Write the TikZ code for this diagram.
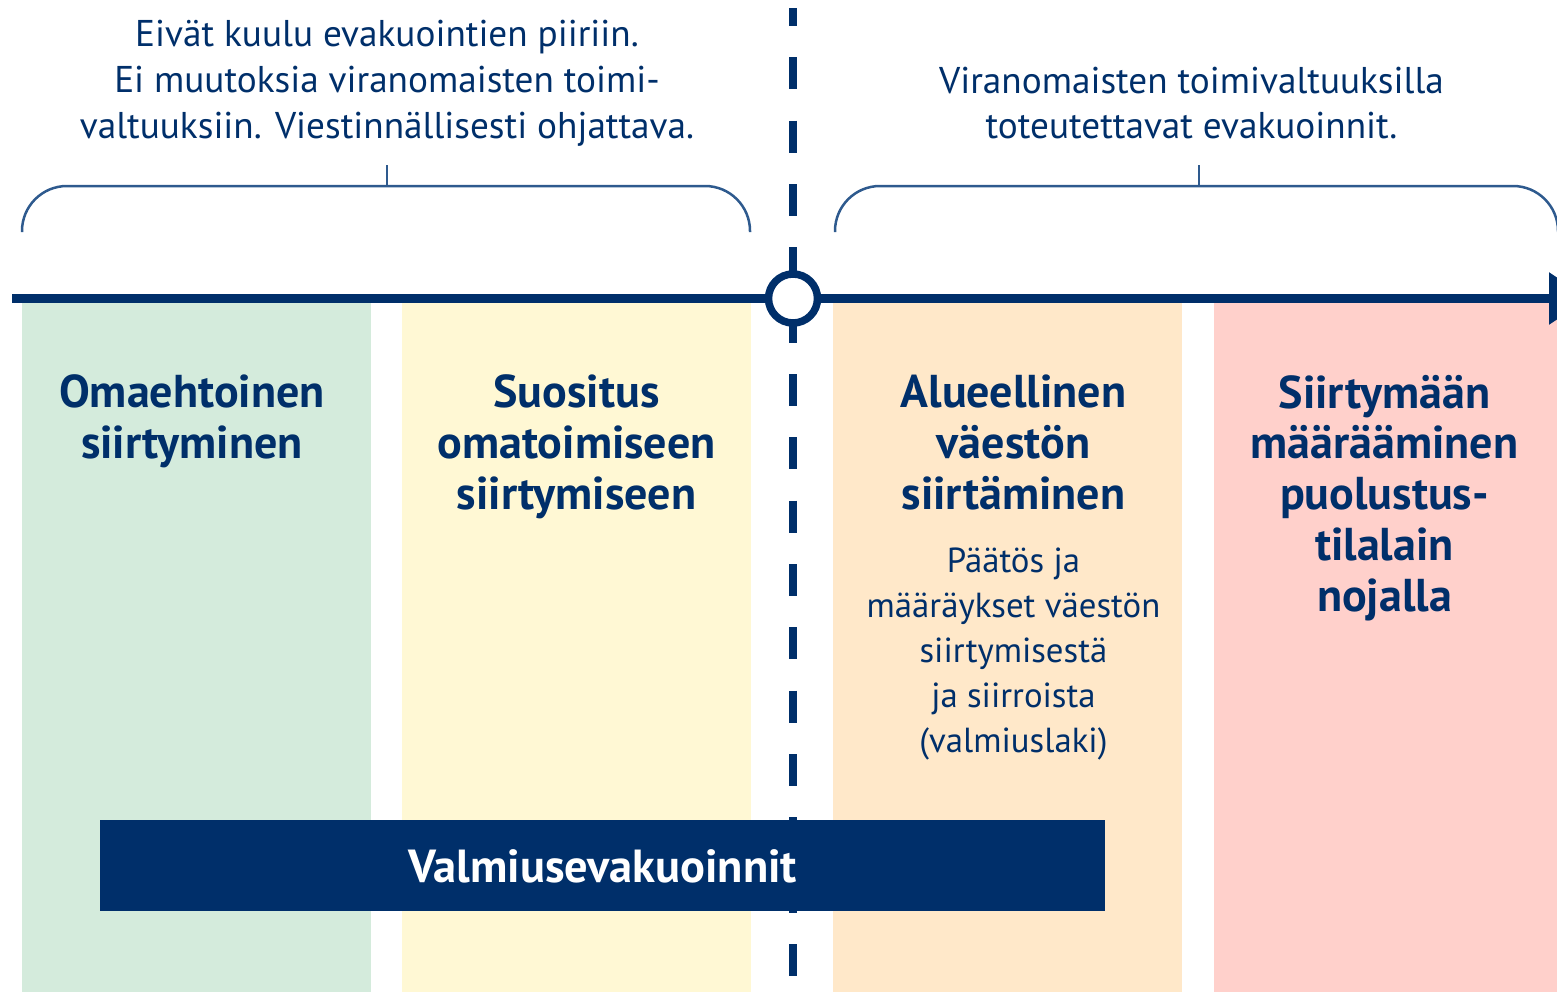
\documentclass[tikz,border=0pt]{standalone}
\usepackage{xcolor}
\usepackage{fontspec}
\setmainfont{PT Sans}
\usepackage{tikz}
\usetikzlibrary{arrows.meta,positioning}
\definecolor{navy}{HTML}{002F6A}
\definecolor{bracecol}{HTML}{2E5A8E}
\definecolor{greencol}{HTML}{D4EBDC}
\definecolor{yellowcol}{HTML}{FFF8D4}
\definecolor{orangecol}{HTML}{FFE8C9}
\definecolor{redcol}{HTML}{FFD0CB}
\tikzstyle{column} = [rectangle, anchor=north west, minimum width=6.98cm, minimum height=14.2cm, inner sep=0pt, outer sep=0pt, draw=none]
\tikzstyle{title} = [text=navy, align=center, inner sep=0pt, font=\fontsize{26.2}{29}\selectfont\bfseries]
\tikzstyle{infotext} = [text=navy, align=center, inner sep=0pt, font=\fontsize{19.8}{25.6}\selectfont]
\tikzstyle{toptext} = [text=navy, align=center, inner sep=0pt, font=\fontsize{21.2}{26}\selectfont]
\tikzstyle{brace} = [draw=bracecol, line width=0.05cm, rounded corners=0.9cm]
\tikzstyle{axis} = [draw=navy, line width=0.18cm, -{Triangle[length=0.8cm, width=1cm]}]
\tikzstyle{divider} = [draw=navy, line width=0.16cm, dash pattern=on 0.64cm off 0.627cm, dash phase=0.28cm]
\tikzstyle{bar} = [rectangle, fill=navy, text=white, minimum width=20.1cm, minimum height=1.82cm, inner sep=0pt, font=\fontsize{26.4}{29}\selectfont\bfseries]

\begin{document}
\begin{tikzpicture}[x=0.02cm, y=-0.02cm, node distance=0.5cm]
\clip (0,0) rectangle (1557,991);

% columns
\node (col1) [column, fill=greencol] at (22,298) {};
\node (col2) [column, fill=yellowcol] at (402,298) {};
\node (col3) [column, fill=orangecol] at (833,298) {};
\node (col4) [column, fill=redcol] at (1214,298) {};

% time axis and divider
\coordinate (axisstart) at (12,298.5);
\coordinate (axisend) at (1589,298.5);
\coordinate (divtop) at (793,8);
\coordinate (divbottom) at (793,1000);
\draw [axis] (axisstart) -- (axisend);
\draw [divider] (divtop) -- (divbottom);
\node (origin) [circle, draw=navy, line width=0.15cm, fill=white, minimum size=0.98cm, inner sep=0pt] at (793,298.5) {};

% braces
\draw [brace] (22,232) -- (22,186) -- (750,186) -- (750,232);
\draw [brace] (835,232) -- (835,186) -- (1558,186) -- (1558,232);
\coordinate (braceL) at (387,186);
\coordinate (tickL) at (387,165);
\coordinate (braceR) at (1199,186);
\coordinate (tickR) at (1199,165);
\draw [brace] (braceL) -- (tickL);
\draw [brace] (braceR) -- (tickR);

\node (topL) [toptext, above=0.37cm of tickL] {Eivät kuulu evakuointien piiriin.\\Ei muutoksia viranomaisten toimi-\\valtuuksiin. Viestinnällisesti ohjattava.};
\node (topR) [toptext, above=0.51cm of tickR, xshift=-0.15cm] {Viranomaisten toimivaltuuksilla\\toteutettavat evakuoinnit.};

% column titles
\node (title1) [title, below=1.53cm of col1.north, xshift=-0.09cm] {Omaehtoinen\\siirtyminen};
\node (title2) [title, below=1.53cm of col2.north] {Suositus\\omatoimiseen\\siirtymiseen};
\node (title3) [title, below=1.53cm of col3.north, xshift=0.12cm] {Alueellinen\\väestön\\siirtäminen};
\node (title4) [title, below=1.53cm of col4.north, xshift=-0.08cm] {Siirtymään\\määrääminen\\puolustus-\\tilalain\\nojalla};
\node (info) [infotext, below=0.74cm of title3] {Päätös ja\\määräykset väestön\\siirtymisestä\\ja siirroista\\(valmiuslaki)};

% bar
\node (bar) [bar, anchor=north west] at (100,820) {Valmiusevakuoinnit};

\end{tikzpicture}
\end{document}
